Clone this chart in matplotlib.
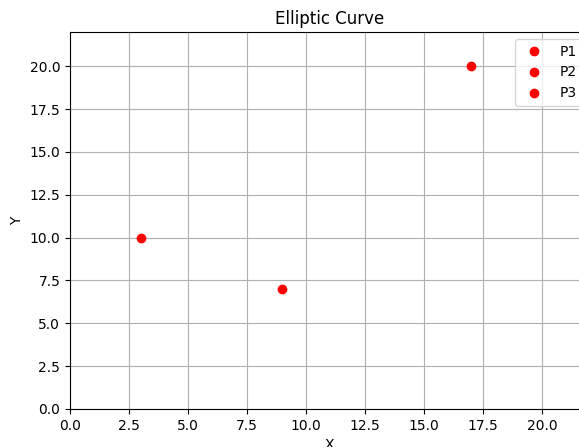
import matplotlib
matplotlib.use("Agg")
import matplotlib.pyplot as plt

point_names = ["P1", "P2", "P3"]
x_values = [3, 9, 17]
y_values = [10, 7, 20]

fig = plt.figure(figsize=(5.79, 4.47), dpi=100)
ax = fig.add_axes([70 / 579, 38 / 447, 519 / 579, 377 / 447])

for name, x, y in zip(point_names, x_values, y_values):
    ax.plot(x, y, "ro", label=name)

ax.set_xlim(0, 22)
ax.set_ylim(0, 22)
ax.set_title("Elliptic Curve")
ax.set_xlabel("X")
ax.set_ylabel("Y")
ax.grid(True)
ax.legend(loc="upper right")

fig.savefig("out.png", dpi=100)
